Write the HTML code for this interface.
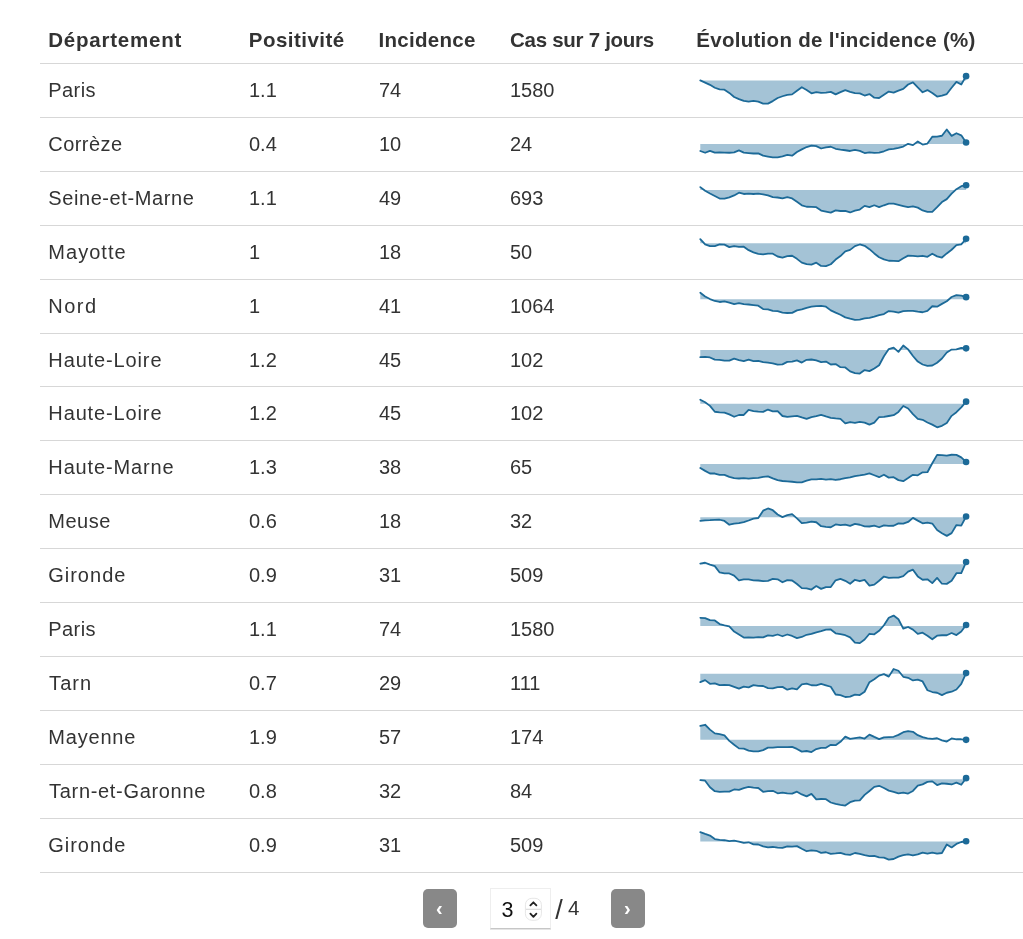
<!DOCTYPE html>
<html lang="fr"><head><meta charset="utf-8"><title>Incidence par département</title>
<style>
html,body{margin:0;padding:0;background:#fff;}
body{width:1023px;height:939px;overflow:hidden;position:relative;font-family:"Liberation Sans",sans-serif;color:#333;font-size:20px;}
table{position:absolute;left:40px;top:10px;width:1000px;border-collapse:collapse;table-layout:fixed;}
th,td{padding:0 0 0 8px;text-align:left;white-space:nowrap;overflow:visible;}
th{height:53px;font-weight:bold;font-size:20.5px;border-bottom:1px solid #d7d7d7;vertical-align:top;}
th span{display:inline-block;position:relative;top:18px;}
td{height:53px;border-bottom:1px solid #d7d7d7;vertical-align:middle;}
td span{display:inline-block}
td.s{padding:0;vertical-align:top;}
tr.short td{height:52px;}
svg.sp{display:block;}
.pg{position:absolute;top:889px;height:39px;}
.btn{background:#888;border-radius:5px;width:34px;color:#fff;font-weight:bold;text-align:center;}
.btn span{position:relative;display:block;line-height:39px;font-size:20px;top:0px;left:-0.7px}
.num{left:490px;width:59px;top:888px;height:39px;border:1px solid #eee;border-bottom:1px solid #c6c6c6;box-shadow:0 1px 0.5px rgba(0,0,0,0.10);background:#fff;box-sizing:content-box}
.num .v{position:absolute;left:10.5px;top:9px;font-size:21.5px;color:#111;line-height:24px}
.tot{left:555px;width:30px;height:30px;top:895px;color:#333}
.tot span{position:absolute;line-height:1}
.tot .sl{font-size:27px;left:0.3px;top:1.5px}
.tot .n4{font-size:20.5px;left:13px;top:2.5px}
</style></head><body>
<table>
<colgroup><col style="width:201px"><col style="width:130px"><col style="width:131px"><col style="width:187px"><col></colgroup>
<thead><tr>
<th><span style="letter-spacing:0.784px;margin-left:0.160px">Département</span></th>
<th><span style="letter-spacing:0.465px;margin-left:-0.185px">Positivité</span></th>
<th><span style="letter-spacing:0.286px;margin-left:-0.465px">Incidence</span></th>
<th><span style="letter-spacing:-0.279px;margin-left:0.000px">Cas sur 7 jours</span></th>
<th><span style="letter-spacing:0.289px;margin-left:-0.780px">Évolution de l'incidence (%)</span></th>
</tr></thead>
<tbody>
<tr><td class="c1"><span style="letter-spacing:0.397px;margin-left:0.340px">Paris</span></td><td>1.1</td><td>74</td><td>1580</td><td class="s"><svg class="sp" width="300" height="52" viewBox="0 0 300 52"><path d="M11.30,16.42 L16.13,18.62 L20.97,20.82 L25.80,23.75 L30.63,25.37 L35.46,25.66 L40.30,28.89 L45.13,32.99 L49.96,35.19 L54.79,36.95 L59.63,37.54 L64.46,36.95 L69.29,37.68 L74.13,39.59 L78.96,39.59 L83.79,37.10 L88.62,34.02 L93.46,32.26 L98.29,30.79 L103.12,30.35 L107.95,26.69 L112.79,23.17 L117.62,25.95 L122.45,29.33 L127.29,28.15 L132.12,28.89 L136.95,28.59 L141.78,27.86 L146.62,30.35 L151.45,28.15 L156.28,26.10 L161.11,27.86 L165.95,29.18 L170.78,29.33 L175.61,31.52 L180.45,30.06 L185.28,33.72 L190.11,34.02 L194.94,30.79 L199.78,27.57 L204.61,28.59 L209.44,26.69 L214.27,24.93 L219.11,20.53 L223.94,18.33 L228.77,23.46 L233.61,28.30 L238.44,26.10 L243.27,29.03 L248.10,32.55 L252.94,31.52 L257.77,30.06 L262.60,23.75 L267.43,17.89 L272.27,20.53 L277.10,12.17 L277.10,16.57 L11.30,16.57 Z" fill="#1c6a98" fill-opacity="0.4" stroke="none"/><path d="M11.30,16.42 L16.13,18.62 L20.97,20.82 L25.80,23.75 L30.63,25.37 L35.46,25.66 L40.30,28.89 L45.13,32.99 L49.96,35.19 L54.79,36.95 L59.63,37.54 L64.46,36.95 L69.29,37.68 L74.13,39.59 L78.96,39.59 L83.79,37.10 L88.62,34.02 L93.46,32.26 L98.29,30.79 L103.12,30.35 L107.95,26.69 L112.79,23.17 L117.62,25.95 L122.45,29.33 L127.29,28.15 L132.12,28.89 L136.95,28.59 L141.78,27.86 L146.62,30.35 L151.45,28.15 L156.28,26.10 L161.11,27.86 L165.95,29.18 L170.78,29.33 L175.61,31.52 L180.45,30.06 L185.28,33.72 L190.11,34.02 L194.94,30.79 L199.78,27.57 L204.61,28.59 L209.44,26.69 L214.27,24.93 L219.11,20.53 L223.94,18.33 L228.77,23.46 L233.61,28.30 L238.44,26.10 L243.27,29.03 L248.10,32.55 L252.94,31.52 L257.77,30.06 L262.60,23.75 L267.43,17.89 L272.27,20.53 L277.10,12.17" fill="none" stroke="#1c6a98" stroke-width="1.8" stroke-linejoin="round" stroke-linecap="round"/><circle cx="277.10" cy="12.17" r="3.3" fill="#1c6a98"/></svg></td></tr>
<tr><td class="c1"><span style="letter-spacing:0.465px;margin-left:0.260px">Corrèze</span></td><td>0.4</td><td>10</td><td>24</td><td class="s"><svg class="sp" width="300" height="52" viewBox="0 0 300 52"><path d="M11.30,32.99 L16.13,34.75 L20.97,32.84 L25.80,34.60 L30.63,34.31 L35.46,34.60 L40.30,34.75 L45.13,34.31 L49.96,32.40 L54.79,34.60 L59.63,35.04 L64.46,35.48 L69.29,35.34 L74.13,37.68 L78.96,38.56 L83.79,39.44 L88.62,39.30 L93.46,38.27 L98.29,36.95 L103.12,37.68 L107.95,34.02 L112.79,31.38 L117.62,29.03 L122.45,27.57 L127.29,28.15 L132.12,30.50 L136.95,29.33 L141.78,28.74 L146.62,30.79 L151.45,31.67 L156.28,32.26 L161.11,32.99 L165.95,31.82 L170.78,32.84 L175.61,35.04 L180.45,34.46 L185.28,34.90 L190.11,34.60 L194.94,33.28 L199.78,31.38 L204.61,30.79 L209.44,29.77 L214.27,28.59 L219.11,25.81 L223.94,27.13 L228.77,23.46 L233.61,26.54 L238.44,25.51 L243.27,18.77 L248.10,18.62 L252.94,17.74 L257.77,11.44 L262.60,17.89 L267.43,15.25 L272.27,17.30 L277.10,24.49 L277.10,26.10 L11.30,26.10 Z" fill="#1c6a98" fill-opacity="0.4" stroke="none"/><path d="M11.30,32.99 L16.13,34.75 L20.97,32.84 L25.80,34.60 L30.63,34.31 L35.46,34.60 L40.30,34.75 L45.13,34.31 L49.96,32.40 L54.79,34.60 L59.63,35.04 L64.46,35.48 L69.29,35.34 L74.13,37.68 L78.96,38.56 L83.79,39.44 L88.62,39.30 L93.46,38.27 L98.29,36.95 L103.12,37.68 L107.95,34.02 L112.79,31.38 L117.62,29.03 L122.45,27.57 L127.29,28.15 L132.12,30.50 L136.95,29.33 L141.78,28.74 L146.62,30.79 L151.45,31.67 L156.28,32.26 L161.11,32.99 L165.95,31.82 L170.78,32.84 L175.61,35.04 L180.45,34.46 L185.28,34.90 L190.11,34.60 L194.94,33.28 L199.78,31.38 L204.61,30.79 L209.44,29.77 L214.27,28.59 L219.11,25.81 L223.94,27.13 L228.77,23.46 L233.61,26.54 L238.44,25.51 L243.27,18.77 L248.10,18.62 L252.94,17.74 L257.77,11.44 L262.60,17.89 L267.43,15.25 L272.27,17.30 L277.10,24.49" fill="none" stroke="#1c6a98" stroke-width="1.8" stroke-linejoin="round" stroke-linecap="round"/><circle cx="277.10" cy="24.49" r="3.3" fill="#1c6a98"/></svg></td></tr>
<tr><td class="c1"><span style="letter-spacing:0.589px;margin-left:0.275px">Seine-et-Marne</span></td><td>1.1</td><td>49</td><td>693</td><td class="s"><svg class="sp" width="300" height="52" viewBox="0 0 300 52"><path d="M11.30,15.10 L16.13,18.77 L20.97,21.55 L25.80,24.05 L30.63,26.54 L35.46,26.69 L40.30,25.37 L45.13,23.46 L49.96,20.67 L54.79,21.99 L59.63,21.55 L64.46,21.99 L69.29,21.70 L74.13,22.29 L78.96,23.46 L83.79,25.22 L88.62,25.51 L93.46,26.39 L98.29,25.22 L103.12,26.39 L107.95,29.77 L112.79,33.28 L117.62,34.75 L122.45,34.90 L127.29,35.19 L132.12,38.56 L136.95,39.59 L141.78,40.62 L146.62,38.42 L151.45,39.00 L156.28,38.86 L161.11,40.47 L165.95,38.56 L170.78,37.54 L175.61,33.87 L180.45,35.19 L185.28,33.28 L190.11,35.19 L194.94,33.28 L199.78,31.67 L204.61,31.67 L209.44,32.84 L214.27,34.02 L219.11,35.19 L223.94,34.46 L228.77,35.63 L233.61,38.42 L238.44,39.88 L243.27,39.88 L248.10,35.19 L252.94,30.06 L257.77,27.13 L262.60,21.70 L267.43,17.16 L272.27,14.22 L277.10,13.20 L277.10,17.89 L11.30,17.89 Z" fill="#1c6a98" fill-opacity="0.4" stroke="none"/><path d="M11.30,15.10 L16.13,18.77 L20.97,21.55 L25.80,24.05 L30.63,26.54 L35.46,26.69 L40.30,25.37 L45.13,23.46 L49.96,20.67 L54.79,21.99 L59.63,21.55 L64.46,21.99 L69.29,21.70 L74.13,22.29 L78.96,23.46 L83.79,25.22 L88.62,25.51 L93.46,26.39 L98.29,25.22 L103.12,26.39 L107.95,29.77 L112.79,33.28 L117.62,34.75 L122.45,34.90 L127.29,35.19 L132.12,38.56 L136.95,39.59 L141.78,40.62 L146.62,38.42 L151.45,39.00 L156.28,38.86 L161.11,40.47 L165.95,38.56 L170.78,37.54 L175.61,33.87 L180.45,35.19 L185.28,33.28 L190.11,35.19 L194.94,33.28 L199.78,31.67 L204.61,31.67 L209.44,32.84 L214.27,34.02 L219.11,35.19 L223.94,34.46 L228.77,35.63 L233.61,38.42 L238.44,39.88 L243.27,39.88 L248.10,35.19 L252.94,30.06 L257.77,27.13 L262.60,21.70 L267.43,17.16 L272.27,14.22 L277.10,13.20" fill="none" stroke="#1c6a98" stroke-width="1.8" stroke-linejoin="round" stroke-linecap="round"/><circle cx="277.10" cy="13.20" r="3.3" fill="#1c6a98"/></svg></td></tr>
<tr><td class="c1"><span style="letter-spacing:1.027px;margin-left:0.340px">Mayotte</span></td><td>1</td><td>18</td><td>50</td><td class="s"><svg class="sp" width="300" height="52" viewBox="0 0 300 52"><path d="M11.30,13.20 L16.13,18.33 L20.97,20.09 L25.80,20.09 L30.63,18.33 L35.46,18.62 L40.30,21.11 L45.13,20.23 L49.96,20.97 L54.79,20.67 L59.63,24.19 L64.46,26.39 L69.29,27.86 L74.13,28.45 L78.96,27.57 L83.79,27.71 L88.62,30.50 L93.46,31.52 L98.29,30.21 L103.12,29.77 L107.95,32.84 L112.79,36.66 L117.62,38.12 L122.45,38.56 L127.29,36.66 L132.12,39.88 L136.95,40.03 L141.78,38.27 L146.62,33.58 L151.45,30.06 L156.28,25.37 L161.11,23.90 L165.95,20.09 L170.78,18.48 L175.61,19.79 L180.45,23.17 L185.28,27.42 L190.11,31.23 L194.94,33.43 L199.78,34.75 L204.61,34.90 L209.44,35.19 L214.27,32.26 L219.11,29.62 L223.94,29.91 L228.77,30.35 L233.61,29.77 L238.44,30.79 L243.27,27.71 L248.10,30.35 L252.94,31.52 L257.77,27.42 L262.60,23.75 L267.43,19.06 L272.27,18.33 L277.10,12.76 L277.10,17.16 L11.30,17.16 Z" fill="#1c6a98" fill-opacity="0.4" stroke="none"/><path d="M11.30,13.20 L16.13,18.33 L20.97,20.09 L25.80,20.09 L30.63,18.33 L35.46,18.62 L40.30,21.11 L45.13,20.23 L49.96,20.97 L54.79,20.67 L59.63,24.19 L64.46,26.39 L69.29,27.86 L74.13,28.45 L78.96,27.57 L83.79,27.71 L88.62,30.50 L93.46,31.52 L98.29,30.21 L103.12,29.77 L107.95,32.84 L112.79,36.66 L117.62,38.12 L122.45,38.56 L127.29,36.66 L132.12,39.88 L136.95,40.03 L141.78,38.27 L146.62,33.58 L151.45,30.06 L156.28,25.37 L161.11,23.90 L165.95,20.09 L170.78,18.48 L175.61,19.79 L180.45,23.17 L185.28,27.42 L190.11,31.23 L194.94,33.43 L199.78,34.75 L204.61,34.90 L209.44,35.19 L214.27,32.26 L219.11,29.62 L223.94,29.91 L228.77,30.35 L233.61,29.77 L238.44,30.79 L243.27,27.71 L248.10,30.35 L252.94,31.52 L257.77,27.42 L262.60,23.75 L267.43,19.06 L272.27,18.33 L277.10,12.76" fill="none" stroke="#1c6a98" stroke-width="1.8" stroke-linejoin="round" stroke-linecap="round"/><circle cx="277.10" cy="12.76" r="3.3" fill="#1c6a98"/></svg></td></tr>
<tr><td class="c1"><span style="letter-spacing:1.452px;margin-left:0.340px">Nord</span></td><td>1</td><td>41</td><td>1064</td><td class="s"><svg class="sp" width="300" height="52" viewBox="0 0 300 52"><path d="M11.30,12.76 L16.13,16.42 L20.97,19.06 L25.80,20.97 L30.63,21.99 L35.46,21.41 L40.30,22.58 L45.13,24.05 L49.96,23.17 L54.79,24.19 L59.63,24.49 L64.46,25.07 L69.29,25.66 L74.13,29.03 L78.96,29.33 L83.79,30.79 L88.62,31.09 L93.46,32.55 L98.29,32.99 L103.12,32.84 L107.95,30.35 L112.79,29.33 L117.62,27.86 L122.45,26.69 L127.29,26.10 L132.12,25.81 L136.95,26.69 L141.78,30.35 L146.62,32.62 L151.45,34.75 L156.28,37.39 L161.11,38.71 L165.95,39.88 L170.78,39.59 L175.61,38.42 L180.45,37.83 L185.28,36.66 L190.11,35.19 L194.94,34.02 L199.78,31.09 L204.61,31.67 L209.44,32.70 L214.27,31.09 L219.11,30.94 L223.94,30.79 L228.77,31.67 L233.61,32.26 L238.44,30.79 L243.27,26.25 L248.10,26.69 L252.94,23.90 L257.77,21.26 L262.60,17.01 L267.43,15.10 L272.27,15.69 L277.10,17.16 L277.10,19.21 L11.30,19.21 Z" fill="#1c6a98" fill-opacity="0.4" stroke="none"/><path d="M11.30,12.76 L16.13,16.42 L20.97,19.06 L25.80,20.97 L30.63,21.99 L35.46,21.41 L40.30,22.58 L45.13,24.05 L49.96,23.17 L54.79,24.19 L59.63,24.49 L64.46,25.07 L69.29,25.66 L74.13,29.03 L78.96,29.33 L83.79,30.79 L88.62,31.09 L93.46,32.55 L98.29,32.99 L103.12,32.84 L107.95,30.35 L112.79,29.33 L117.62,27.86 L122.45,26.69 L127.29,26.10 L132.12,25.81 L136.95,26.69 L141.78,30.35 L146.62,32.62 L151.45,34.75 L156.28,37.39 L161.11,38.71 L165.95,39.88 L170.78,39.59 L175.61,38.42 L180.45,37.83 L185.28,36.66 L190.11,35.19 L194.94,34.02 L199.78,31.09 L204.61,31.67 L209.44,32.70 L214.27,31.09 L219.11,30.94 L223.94,30.79 L228.77,31.67 L233.61,32.26 L238.44,30.79 L243.27,26.25 L248.10,26.69 L252.94,23.90 L257.77,21.26 L262.60,17.01 L267.43,15.10 L272.27,15.69 L277.10,17.16" fill="none" stroke="#1c6a98" stroke-width="1.8" stroke-linejoin="round" stroke-linecap="round"/><circle cx="277.10" cy="17.16" r="3.3" fill="#1c6a98"/></svg></td></tr>
<tr class="short"><td class="c1"><span style="letter-spacing:0.868px;margin-left:0.340px">Haute-Loire</span></td><td>1.2</td><td>45</td><td>102</td><td class="s"><svg class="sp" width="300" height="52" viewBox="0 0 300 52"><path d="M11.30,23.17 L16.13,22.87 L20.97,23.46 L25.80,25.66 L30.63,25.81 L35.46,26.69 L40.30,26.69 L45.13,24.63 L49.96,26.10 L54.79,27.13 L59.63,25.66 L64.46,27.13 L69.29,26.83 L74.13,28.15 L78.96,28.59 L83.79,29.33 L88.62,30.65 L93.46,30.35 L98.29,27.86 L103.12,27.57 L107.95,26.39 L112.79,28.59 L117.62,25.81 L122.45,25.51 L127.29,26.39 L132.12,28.15 L136.95,27.57 L141.78,30.50 L146.62,30.06 L151.45,33.14 L156.28,33.43 L161.11,37.39 L165.95,39.15 L170.78,39.59 L175.61,36.07 L180.45,37.10 L185.28,34.46 L190.11,31.23 L194.94,22.29 L199.78,15.10 L204.61,13.64 L209.44,17.89 L214.27,11.44 L219.11,15.40 L223.94,21.99 L228.77,27.57 L233.61,30.50 L238.44,31.96 L243.27,31.52 L248.10,28.74 L252.94,24.49 L257.77,18.48 L262.60,15.54 L267.43,15.40 L272.27,13.78 L277.10,14.37 L277.10,15.98 L11.30,15.98 Z" fill="#1c6a98" fill-opacity="0.4" stroke="none"/><path d="M11.30,23.17 L16.13,22.87 L20.97,23.46 L25.80,25.66 L30.63,25.81 L35.46,26.69 L40.30,26.69 L45.13,24.63 L49.96,26.10 L54.79,27.13 L59.63,25.66 L64.46,27.13 L69.29,26.83 L74.13,28.15 L78.96,28.59 L83.79,29.33 L88.62,30.65 L93.46,30.35 L98.29,27.86 L103.12,27.57 L107.95,26.39 L112.79,28.59 L117.62,25.81 L122.45,25.51 L127.29,26.39 L132.12,28.15 L136.95,27.57 L141.78,30.50 L146.62,30.06 L151.45,33.14 L156.28,33.43 L161.11,37.39 L165.95,39.15 L170.78,39.59 L175.61,36.07 L180.45,37.10 L185.28,34.46 L190.11,31.23 L194.94,22.29 L199.78,15.10 L204.61,13.64 L209.44,17.89 L214.27,11.44 L219.11,15.40 L223.94,21.99 L228.77,27.57 L233.61,30.50 L238.44,31.96 L243.27,31.52 L248.10,28.74 L252.94,24.49 L257.77,18.48 L262.60,15.54 L267.43,15.40 L272.27,13.78 L277.10,14.37" fill="none" stroke="#1c6a98" stroke-width="1.8" stroke-linejoin="round" stroke-linecap="round"/><circle cx="277.10" cy="14.37" r="3.3" fill="#1c6a98"/></svg></td></tr>
<tr><td class="c1"><span style="letter-spacing:0.868px;margin-left:0.340px">Haute-Loire</span></td><td>1.2</td><td>45</td><td>102</td><td class="s"><svg class="sp" width="300" height="52" viewBox="0 0 300 52"><path d="M11.30,12.73 L16.13,15.22 L20.97,18.89 L25.80,24.75 L30.63,25.34 L35.46,25.63 L40.30,27.39 L45.13,29.74 L49.96,27.98 L54.79,27.98 L59.63,22.85 L64.46,24.02 L69.29,24.61 L74.13,24.90 L78.96,22.55 L83.79,24.31 L88.62,24.17 L93.46,29.01 L98.29,29.89 L103.12,29.30 L107.95,28.86 L112.79,30.47 L117.62,31.79 L122.45,30.03 L127.29,29.15 L132.12,27.98 L136.95,29.45 L141.78,30.77 L146.62,31.43 L151.45,31.94 L156.28,36.34 L161.11,35.02 L165.95,35.90 L170.78,34.87 L175.61,35.60 L180.45,37.66 L185.28,35.60 L190.11,30.03 L194.94,29.89 L199.78,29.01 L204.61,28.13 L209.44,24.90 L214.27,19.04 L219.11,21.53 L223.94,27.10 L228.77,31.79 L233.61,32.82 L238.44,35.46 L243.27,37.66 L248.10,40.30 L252.94,38.83 L257.77,35.90 L262.60,28.86 L267.43,25.19 L272.27,20.35 L277.10,14.64 L277.10,16.69 L11.30,16.69 Z" fill="#1c6a98" fill-opacity="0.4" stroke="none"/><path d="M11.30,12.73 L16.13,15.22 L20.97,18.89 L25.80,24.75 L30.63,25.34 L35.46,25.63 L40.30,27.39 L45.13,29.74 L49.96,27.98 L54.79,27.98 L59.63,22.85 L64.46,24.02 L69.29,24.61 L74.13,24.90 L78.96,22.55 L83.79,24.31 L88.62,24.17 L93.46,29.01 L98.29,29.89 L103.12,29.30 L107.95,28.86 L112.79,30.47 L117.62,31.79 L122.45,30.03 L127.29,29.15 L132.12,27.98 L136.95,29.45 L141.78,30.77 L146.62,31.43 L151.45,31.94 L156.28,36.34 L161.11,35.02 L165.95,35.90 L170.78,34.87 L175.61,35.60 L180.45,37.66 L185.28,35.60 L190.11,30.03 L194.94,29.89 L199.78,29.01 L204.61,28.13 L209.44,24.90 L214.27,19.04 L219.11,21.53 L223.94,27.10 L228.77,31.79 L233.61,32.82 L238.44,35.46 L243.27,37.66 L248.10,40.30 L252.94,38.83 L257.77,35.90 L262.60,28.86 L267.43,25.19 L272.27,20.35 L277.10,14.64" fill="none" stroke="#1c6a98" stroke-width="1.8" stroke-linejoin="round" stroke-linecap="round"/><circle cx="277.10" cy="14.64" r="3.3" fill="#1c6a98"/></svg></td></tr>
<tr><td class="c1"><span style="letter-spacing:0.856px;margin-left:0.340px">Haute-Marne</span></td><td>1.3</td><td>38</td><td>65</td><td class="s"><svg class="sp" width="300" height="52" viewBox="0 0 300 52"><path d="M11.30,26.95 L16.13,29.89 L20.97,32.52 L25.80,32.52 L30.63,33.84 L35.46,33.84 L40.30,35.90 L45.13,37.22 L49.96,37.51 L54.79,37.07 L59.63,37.66 L64.46,37.07 L69.29,36.78 L74.13,35.90 L78.96,35.31 L83.79,37.36 L88.62,39.12 L93.46,40.00 L98.29,40.30 L103.12,40.74 L107.95,41.32 L112.79,41.32 L117.62,39.71 L122.45,38.39 L127.29,38.39 L132.12,37.95 L136.95,38.54 L141.78,38.17 L146.62,38.98 L151.45,38.24 L156.28,37.07 L161.11,36.34 L165.95,35.02 L170.78,34.43 L175.61,33.55 L180.45,32.38 L185.28,34.28 L190.11,36.19 L194.94,33.70 L199.78,36.63 L204.61,36.19 L209.44,39.12 L214.27,40.15 L219.11,37.07 L223.94,33.84 L228.77,34.28 L233.61,31.35 L238.44,31.21 L243.27,22.26 L248.10,13.90 L252.94,14.05 L257.77,14.64 L262.60,13.76 L267.43,13.90 L272.27,16.40 L277.10,20.94 L277.10,22.99 L11.30,22.99 Z" fill="#1c6a98" fill-opacity="0.4" stroke="none"/><path d="M11.30,26.95 L16.13,29.89 L20.97,32.52 L25.80,32.52 L30.63,33.84 L35.46,33.84 L40.30,35.90 L45.13,37.22 L49.96,37.51 L54.79,37.07 L59.63,37.66 L64.46,37.07 L69.29,36.78 L74.13,35.90 L78.96,35.31 L83.79,37.36 L88.62,39.12 L93.46,40.00 L98.29,40.30 L103.12,40.74 L107.95,41.32 L112.79,41.32 L117.62,39.71 L122.45,38.39 L127.29,38.39 L132.12,37.95 L136.95,38.54 L141.78,38.17 L146.62,38.98 L151.45,38.24 L156.28,37.07 L161.11,36.34 L165.95,35.02 L170.78,34.43 L175.61,33.55 L180.45,32.38 L185.28,34.28 L190.11,36.19 L194.94,33.70 L199.78,36.63 L204.61,36.19 L209.44,39.12 L214.27,40.15 L219.11,37.07 L223.94,33.84 L228.77,34.28 L233.61,31.35 L238.44,31.21 L243.27,22.26 L248.10,13.90 L252.94,14.05 L257.77,14.64 L262.60,13.76 L267.43,13.90 L272.27,16.40 L277.10,20.94" fill="none" stroke="#1c6a98" stroke-width="1.8" stroke-linejoin="round" stroke-linecap="round"/><circle cx="277.10" cy="20.94" r="3.3" fill="#1c6a98"/></svg></td></tr>
<tr><td class="c1"><span style="letter-spacing:0.489px;margin-left:0.340px">Meuse</span></td><td>0.6</td><td>18</td><td>32</td><td class="s"><svg class="sp" width="300" height="52" viewBox="0 0 300 52"><path d="M11.30,25.93 L16.13,25.34 L20.97,25.19 L25.80,24.90 L30.63,24.75 L35.46,25.93 L40.30,29.74 L45.13,28.57 L49.96,28.13 L54.79,27.10 L59.63,25.49 L64.46,23.58 L69.29,22.99 L74.13,15.66 L78.96,13.46 L83.79,15.22 L88.62,19.48 L93.46,22.11 L98.29,20.21 L103.12,19.18 L107.95,23.43 L112.79,28.13 L117.62,27.69 L122.45,26.66 L127.29,27.25 L132.12,31.21 L136.95,31.79 L141.78,32.23 L146.62,29.45 L151.45,30.18 L156.28,29.59 L161.11,30.91 L165.95,28.86 L170.78,29.74 L175.61,31.35 L180.45,31.50 L185.28,30.62 L190.11,32.23 L194.94,30.33 L199.78,30.91 L204.61,30.77 L209.44,28.42 L214.27,28.71 L219.11,26.95 L223.94,22.85 L228.77,25.63 L233.61,28.27 L238.44,27.54 L243.27,28.57 L248.10,35.02 L252.94,38.24 L257.77,40.88 L262.60,38.10 L267.43,30.03 L272.27,30.62 L277.10,21.53 L277.10,22.26 L11.30,22.26 Z" fill="#1c6a98" fill-opacity="0.4" stroke="none"/><path d="M11.30,25.93 L16.13,25.34 L20.97,25.19 L25.80,24.90 L30.63,24.75 L35.46,25.93 L40.30,29.74 L45.13,28.57 L49.96,28.13 L54.79,27.10 L59.63,25.49 L64.46,23.58 L69.29,22.99 L74.13,15.66 L78.96,13.46 L83.79,15.22 L88.62,19.48 L93.46,22.11 L98.29,20.21 L103.12,19.18 L107.95,23.43 L112.79,28.13 L117.62,27.69 L122.45,26.66 L127.29,27.25 L132.12,31.21 L136.95,31.79 L141.78,32.23 L146.62,29.45 L151.45,30.18 L156.28,29.59 L161.11,30.91 L165.95,28.86 L170.78,29.74 L175.61,31.35 L180.45,31.50 L185.28,30.62 L190.11,32.23 L194.94,30.33 L199.78,30.91 L204.61,30.77 L209.44,28.42 L214.27,28.71 L219.11,26.95 L223.94,22.85 L228.77,25.63 L233.61,28.27 L238.44,27.54 L243.27,28.57 L248.10,35.02 L252.94,38.24 L257.77,40.88 L262.60,38.10 L267.43,30.03 L272.27,30.62 L277.10,21.53" fill="none" stroke="#1c6a98" stroke-width="1.8" stroke-linejoin="round" stroke-linecap="round"/><circle cx="277.10" cy="21.53" r="3.3" fill="#1c6a98"/></svg></td></tr>
<tr><td class="c1"><span style="letter-spacing:1.028px;margin-left:0.125px">Gironde</span></td><td>0.9</td><td>31</td><td>509</td><td class="s"><svg class="sp" width="300" height="52" viewBox="0 0 300 52"><path d="M11.30,14.64 L16.13,13.76 L20.97,15.66 L25.80,17.13 L30.63,23.43 L35.46,24.46 L40.30,24.46 L45.13,26.66 L49.96,31.35 L54.79,30.47 L59.63,30.47 L64.46,31.35 L69.29,31.50 L74.13,32.09 L78.96,31.79 L83.79,29.89 L88.62,30.33 L93.46,33.26 L98.29,31.06 L103.12,31.50 L107.95,35.02 L112.79,39.12 L117.62,39.42 L122.45,40.59 L127.29,37.07 L132.12,39.86 L136.95,38.10 L141.78,38.10 L146.62,31.28 L151.45,29.89 L156.28,31.79 L161.11,34.72 L165.95,30.77 L170.78,32.23 L175.61,30.91 L180.45,36.63 L185.28,35.60 L190.11,31.79 L194.94,27.54 L199.78,28.86 L204.61,28.57 L209.44,28.71 L214.27,27.10 L219.11,22.70 L223.94,20.65 L228.77,27.39 L233.61,30.77 L238.44,30.33 L243.27,34.14 L248.10,28.86 L252.94,34.72 L257.77,34.87 L262.60,31.79 L267.43,24.17 L272.27,24.17 L277.10,13.02 L277.10,15.22 L11.30,15.22 Z" fill="#1c6a98" fill-opacity="0.4" stroke="none"/><path d="M11.30,14.64 L16.13,13.76 L20.97,15.66 L25.80,17.13 L30.63,23.43 L35.46,24.46 L40.30,24.46 L45.13,26.66 L49.96,31.35 L54.79,30.47 L59.63,30.47 L64.46,31.35 L69.29,31.50 L74.13,32.09 L78.96,31.79 L83.79,29.89 L88.62,30.33 L93.46,33.26 L98.29,31.06 L103.12,31.50 L107.95,35.02 L112.79,39.12 L117.62,39.42 L122.45,40.59 L127.29,37.07 L132.12,39.86 L136.95,38.10 L141.78,38.10 L146.62,31.28 L151.45,29.89 L156.28,31.79 L161.11,34.72 L165.95,30.77 L170.78,32.23 L175.61,30.91 L180.45,36.63 L185.28,35.60 L190.11,31.79 L194.94,27.54 L199.78,28.86 L204.61,28.57 L209.44,28.71 L214.27,27.10 L219.11,22.70 L223.94,20.65 L228.77,27.39 L233.61,30.77 L238.44,30.33 L243.27,34.14 L248.10,28.86 L252.94,34.72 L257.77,34.87 L262.60,31.79 L267.43,24.17 L272.27,24.17 L277.10,13.02" fill="none" stroke="#1c6a98" stroke-width="1.8" stroke-linejoin="round" stroke-linecap="round"/><circle cx="277.10" cy="13.02" r="3.3" fill="#1c6a98"/></svg></td></tr>
<tr><td class="c1"><span style="letter-spacing:0.397px;margin-left:0.340px">Paris</span></td><td>1.1</td><td>74</td><td>1580</td><td class="s"><svg class="sp" width="300" height="52" viewBox="0 0 300 52"><path d="M11.30,14.78 L16.13,15.08 L20.97,17.13 L25.80,17.42 L30.63,21.09 L35.46,22.41 L40.30,23.43 L45.13,28.57 L49.96,31.50 L54.79,34.58 L59.63,34.43 L64.46,34.72 L69.29,34.14 L74.13,34.43 L78.96,32.38 L83.79,32.82 L88.62,31.50 L93.46,33.26 L98.29,31.50 L103.12,32.96 L107.95,35.16 L112.79,33.99 L117.62,31.79 L122.45,30.91 L127.29,29.30 L132.12,28.13 L136.95,26.66 L141.78,26.51 L146.62,30.33 L151.45,31.21 L156.28,32.23 L161.11,34.43 L165.95,39.71 L170.78,40.15 L175.61,36.48 L180.45,30.77 L185.28,31.35 L190.11,27.83 L194.94,22.26 L199.78,14.78 L204.61,12.58 L209.44,16.25 L214.27,25.63 L219.11,24.02 L223.94,26.66 L228.77,30.91 L233.61,29.74 L238.44,32.82 L243.27,36.34 L248.10,32.67 L252.94,32.23 L257.77,32.23 L262.60,30.03 L267.43,32.09 L272.27,28.57 L277.10,21.97 L277.10,22.99 L11.30,22.99 Z" fill="#1c6a98" fill-opacity="0.4" stroke="none"/><path d="M11.30,14.78 L16.13,15.08 L20.97,17.13 L25.80,17.42 L30.63,21.09 L35.46,22.41 L40.30,23.43 L45.13,28.57 L49.96,31.50 L54.79,34.58 L59.63,34.43 L64.46,34.72 L69.29,34.14 L74.13,34.43 L78.96,32.38 L83.79,32.82 L88.62,31.50 L93.46,33.26 L98.29,31.50 L103.12,32.96 L107.95,35.16 L112.79,33.99 L117.62,31.79 L122.45,30.91 L127.29,29.30 L132.12,28.13 L136.95,26.66 L141.78,26.51 L146.62,30.33 L151.45,31.21 L156.28,32.23 L161.11,34.43 L165.95,39.71 L170.78,40.15 L175.61,36.48 L180.45,30.77 L185.28,31.35 L190.11,27.83 L194.94,22.26 L199.78,14.78 L204.61,12.58 L209.44,16.25 L214.27,25.63 L219.11,24.02 L223.94,26.66 L228.77,30.91 L233.61,29.74 L238.44,32.82 L243.27,36.34 L248.10,32.67 L252.94,32.23 L257.77,32.23 L262.60,30.03 L267.43,32.09 L272.27,28.57 L277.10,21.97" fill="none" stroke="#1c6a98" stroke-width="1.8" stroke-linejoin="round" stroke-linecap="round"/><circle cx="277.10" cy="21.97" r="3.3" fill="#1c6a98"/></svg></td></tr>
<tr><td class="c1"><span style="letter-spacing:1.093px;margin-left:1.070px">Tarn</span></td><td>0.7</td><td>29</td><td>111</td><td class="s"><svg class="sp" width="300" height="52" viewBox="0 0 300 52"><path d="M11.30,25.05 L16.13,23.14 L20.97,26.81 L25.80,26.37 L30.63,28.13 L35.46,27.83 L40.30,28.13 L45.13,29.89 L49.96,31.65 L54.79,29.59 L59.63,30.33 L64.46,28.13 L69.29,28.86 L74.13,29.01 L78.96,31.06 L83.79,31.35 L88.62,30.03 L93.46,29.89 L98.29,32.67 L103.12,31.35 L107.95,32.38 L112.79,27.39 L117.62,26.66 L122.45,28.27 L127.29,28.42 L132.12,26.95 L136.95,28.27 L141.78,29.74 L146.62,37.51 L151.45,38.10 L156.28,40.00 L161.11,39.56 L165.95,37.66 L170.78,38.10 L175.61,34.72 L180.45,25.19 L185.28,22.26 L190.11,18.60 L194.94,17.13 L199.78,19.62 L204.61,12.00 L209.44,13.76 L214.27,19.77 L219.11,20.79 L223.94,23.43 L228.77,22.55 L233.61,24.46 L238.44,33.26 L243.27,35.02 L248.10,35.75 L252.94,38.10 L257.77,35.75 L262.60,34.72 L267.43,32.52 L272.27,26.95 L277.10,16.10 L277.10,16.69 L11.30,16.69 Z" fill="#1c6a98" fill-opacity="0.4" stroke="none"/><path d="M11.30,25.05 L16.13,23.14 L20.97,26.81 L25.80,26.37 L30.63,28.13 L35.46,27.83 L40.30,28.13 L45.13,29.89 L49.96,31.65 L54.79,29.59 L59.63,30.33 L64.46,28.13 L69.29,28.86 L74.13,29.01 L78.96,31.06 L83.79,31.35 L88.62,30.03 L93.46,29.89 L98.29,32.67 L103.12,31.35 L107.95,32.38 L112.79,27.39 L117.62,26.66 L122.45,28.27 L127.29,28.42 L132.12,26.95 L136.95,28.27 L141.78,29.74 L146.62,37.51 L151.45,38.10 L156.28,40.00 L161.11,39.56 L165.95,37.66 L170.78,38.10 L175.61,34.72 L180.45,25.19 L185.28,22.26 L190.11,18.60 L194.94,17.13 L199.78,19.62 L204.61,12.00 L209.44,13.76 L214.27,19.77 L219.11,20.79 L223.94,23.43 L228.77,22.55 L233.61,24.46 L238.44,33.26 L243.27,35.02 L248.10,35.75 L252.94,38.10 L257.77,35.75 L262.60,34.72 L267.43,32.52 L272.27,26.95 L277.10,16.10" fill="none" stroke="#1c6a98" stroke-width="1.8" stroke-linejoin="round" stroke-linecap="round"/><circle cx="277.10" cy="16.10" r="3.3" fill="#1c6a98"/></svg></td></tr>
<tr><td class="c1"><span style="letter-spacing:0.792px;margin-left:0.340px">Mayenne</span></td><td>1.9</td><td>57</td><td>174</td><td class="s"><svg class="sp" width="300" height="52" viewBox="0 0 300 52"><path d="M11.30,14.93 L16.13,13.76 L20.97,18.60 L25.80,22.41 L30.63,23.14 L35.46,24.46 L40.30,29.89 L45.13,33.70 L49.96,37.36 L54.79,37.66 L59.63,39.56 L64.46,40.44 L69.29,40.44 L74.13,39.12 L78.96,36.63 L83.79,36.63 L88.62,36.19 L93.46,36.19 L98.29,36.19 L103.12,35.90 L107.95,37.95 L112.79,40.59 L117.62,40.00 L122.45,41.03 L127.29,38.10 L132.12,36.78 L136.95,36.78 L141.78,33.84 L146.62,34.21 L151.45,30.77 L156.28,25.63 L161.11,27.83 L165.95,27.10 L170.78,26.37 L175.61,27.54 L180.45,23.58 L185.28,25.93 L190.11,28.13 L194.94,26.37 L199.78,26.07 L204.61,25.78 L209.44,23.87 L214.27,21.23 L219.11,20.21 L223.94,20.79 L228.77,24.17 L233.61,26.07 L238.44,27.39 L243.27,27.83 L248.10,27.25 L252.94,29.30 L257.77,30.62 L262.60,27.39 L267.43,28.27 L272.27,28.27 L277.10,28.86 L277.10,28.86 L11.30,28.86 Z" fill="#1c6a98" fill-opacity="0.4" stroke="none"/><path d="M11.30,14.93 L16.13,13.76 L20.97,18.60 L25.80,22.41 L30.63,23.14 L35.46,24.46 L40.30,29.89 L45.13,33.70 L49.96,37.36 L54.79,37.66 L59.63,39.56 L64.46,40.44 L69.29,40.44 L74.13,39.12 L78.96,36.63 L83.79,36.63 L88.62,36.19 L93.46,36.19 L98.29,36.19 L103.12,35.90 L107.95,37.95 L112.79,40.59 L117.62,40.00 L122.45,41.03 L127.29,38.10 L132.12,36.78 L136.95,36.78 L141.78,33.84 L146.62,34.21 L151.45,30.77 L156.28,25.63 L161.11,27.83 L165.95,27.10 L170.78,26.37 L175.61,27.54 L180.45,23.58 L185.28,25.93 L190.11,28.13 L194.94,26.37 L199.78,26.07 L204.61,25.78 L209.44,23.87 L214.27,21.23 L219.11,20.21 L223.94,20.79 L228.77,24.17 L233.61,26.07 L238.44,27.39 L243.27,27.83 L248.10,27.25 L252.94,29.30 L257.77,30.62 L262.60,27.39 L267.43,28.27 L272.27,28.27 L277.10,28.86" fill="none" stroke="#1c6a98" stroke-width="1.8" stroke-linejoin="round" stroke-linecap="round"/><circle cx="277.10" cy="28.86" r="3.3" fill="#1c6a98"/></svg></td></tr>
<tr><td class="c1"><span style="letter-spacing:0.681px;margin-left:1.070px">Tarn-et-Garonne</span></td><td>0.8</td><td>32</td><td>84</td><td class="s"><svg class="sp" width="300" height="52" viewBox="0 0 300 52"><path d="M11.30,15.22 L16.13,15.66 L20.97,22.26 L25.80,26.22 L30.63,26.95 L35.46,26.66 L40.30,26.66 L45.13,24.46 L49.96,24.90 L54.79,23.14 L59.63,21.82 L64.46,22.70 L69.29,22.99 L74.13,26.81 L78.96,26.22 L83.79,25.78 L88.62,28.27 L93.46,27.54 L98.29,28.42 L103.12,28.57 L107.95,26.66 L112.79,29.45 L117.62,31.35 L122.45,28.86 L127.29,34.28 L132.12,33.99 L136.95,34.14 L141.78,37.51 L146.62,38.98 L151.45,39.86 L156.28,40.59 L161.11,37.22 L165.95,35.60 L170.78,35.31 L175.61,29.89 L180.45,25.93 L185.28,21.82 L190.11,20.79 L194.94,22.99 L199.78,25.63 L204.61,26.95 L209.44,28.27 L214.27,27.54 L219.11,28.57 L223.94,25.93 L228.77,20.65 L233.61,19.33 L238.44,16.84 L243.27,16.40 L248.10,20.06 L252.94,18.30 L257.77,18.74 L262.60,19.48 L267.43,17.57 L272.27,19.77 L277.10,13.17 L277.10,14.20 L11.30,14.20 Z" fill="#1c6a98" fill-opacity="0.4" stroke="none"/><path d="M11.30,15.22 L16.13,15.66 L20.97,22.26 L25.80,26.22 L30.63,26.95 L35.46,26.66 L40.30,26.66 L45.13,24.46 L49.96,24.90 L54.79,23.14 L59.63,21.82 L64.46,22.70 L69.29,22.99 L74.13,26.81 L78.96,26.22 L83.79,25.78 L88.62,28.27 L93.46,27.54 L98.29,28.42 L103.12,28.57 L107.95,26.66 L112.79,29.45 L117.62,31.35 L122.45,28.86 L127.29,34.28 L132.12,33.99 L136.95,34.14 L141.78,37.51 L146.62,38.98 L151.45,39.86 L156.28,40.59 L161.11,37.22 L165.95,35.60 L170.78,35.31 L175.61,29.89 L180.45,25.93 L185.28,21.82 L190.11,20.79 L194.94,22.99 L199.78,25.63 L204.61,26.95 L209.44,28.27 L214.27,27.54 L219.11,28.57 L223.94,25.93 L228.77,20.65 L233.61,19.33 L238.44,16.84 L243.27,16.40 L248.10,20.06 L252.94,18.30 L257.77,18.74 L262.60,19.48 L267.43,17.57 L272.27,19.77 L277.10,13.17" fill="none" stroke="#1c6a98" stroke-width="1.8" stroke-linejoin="round" stroke-linecap="round"/><circle cx="277.10" cy="13.17" r="3.3" fill="#1c6a98"/></svg></td></tr>
<tr><td class="c1"><span style="letter-spacing:1.028px;margin-left:0.125px">Gironde</span></td><td>0.9</td><td>31</td><td>509</td><td class="s"><svg class="sp" width="300" height="52" viewBox="0 0 300 52"><path d="M11.30,13.17 L16.13,14.93 L20.97,16.54 L25.80,20.06 L30.63,20.79 L35.46,21.23 L40.30,22.11 L45.13,21.53 L49.96,22.55 L54.79,23.87 L59.63,23.29 L64.46,25.34 L69.29,25.49 L74.13,27.39 L78.96,28.42 L83.79,27.98 L88.62,28.57 L93.46,28.86 L98.29,27.39 L103.12,27.54 L107.95,27.10 L112.79,29.74 L117.62,32.23 L122.45,31.35 L127.29,31.79 L132.12,33.84 L136.95,33.26 L141.78,34.87 L146.62,34.43 L151.45,33.84 L156.28,35.46 L161.11,35.90 L165.95,33.99 L170.78,34.87 L175.61,36.19 L180.45,37.07 L185.28,36.92 L190.11,38.39 L194.94,38.68 L199.78,40.59 L204.61,40.00 L209.44,37.66 L214.27,36.19 L219.11,35.46 L223.94,36.48 L228.77,35.46 L233.61,33.70 L238.44,34.72 L243.27,33.55 L248.10,34.72 L252.94,33.99 L257.77,25.49 L262.60,28.42 L267.43,24.90 L272.27,22.99 L277.10,22.26 L277.10,22.55 L11.30,22.55 Z" fill="#1c6a98" fill-opacity="0.4" stroke="none"/><path d="M11.30,13.17 L16.13,14.93 L20.97,16.54 L25.80,20.06 L30.63,20.79 L35.46,21.23 L40.30,22.11 L45.13,21.53 L49.96,22.55 L54.79,23.87 L59.63,23.29 L64.46,25.34 L69.29,25.49 L74.13,27.39 L78.96,28.42 L83.79,27.98 L88.62,28.57 L93.46,28.86 L98.29,27.39 L103.12,27.54 L107.95,27.10 L112.79,29.74 L117.62,32.23 L122.45,31.35 L127.29,31.79 L132.12,33.84 L136.95,33.26 L141.78,34.87 L146.62,34.43 L151.45,33.84 L156.28,35.46 L161.11,35.90 L165.95,33.99 L170.78,34.87 L175.61,36.19 L180.45,37.07 L185.28,36.92 L190.11,38.39 L194.94,38.68 L199.78,40.59 L204.61,40.00 L209.44,37.66 L214.27,36.19 L219.11,35.46 L223.94,36.48 L228.77,35.46 L233.61,33.70 L238.44,34.72 L243.27,33.55 L248.10,34.72 L252.94,33.99 L257.77,25.49 L262.60,28.42 L267.43,24.90 L272.27,22.99 L277.10,22.26" fill="none" stroke="#1c6a98" stroke-width="1.8" stroke-linejoin="round" stroke-linecap="round"/><circle cx="277.10" cy="22.26" r="3.3" fill="#1c6a98"/></svg></td></tr>
</tbody></table>
<div class="pg btn" style="left:423px"><span>‹</span></div>
<div class="pg num"><span class="v">3</span>
<svg style="position:absolute;left:33.1px;top:8px" width="18" height="24" viewBox="0 0 18 24"><rect x="1.4" y="1.3" width="16" height="22" rx="6.5" fill="#fff" stroke="#e6e6e6" stroke-width="1"/><line x1="2" y1="12.3" x2="17" y2="12.3" stroke="#dcdcdc" stroke-width="1.2"/><path d="M6.4 8.4 L9.4 5.3 L12.4 8.4 M6.4 16.6 L9.4 19.8 L12.4 16.6" fill="none" stroke="#222" stroke-width="1.8" stroke-linecap="round" stroke-linejoin="round"/></svg>
</div>
<div class="pg tot"><span class="sl">/</span><span class="n4">4</span></div>
<div class="pg btn" style="left:611px"><span>›</span></div>
</body></html>
